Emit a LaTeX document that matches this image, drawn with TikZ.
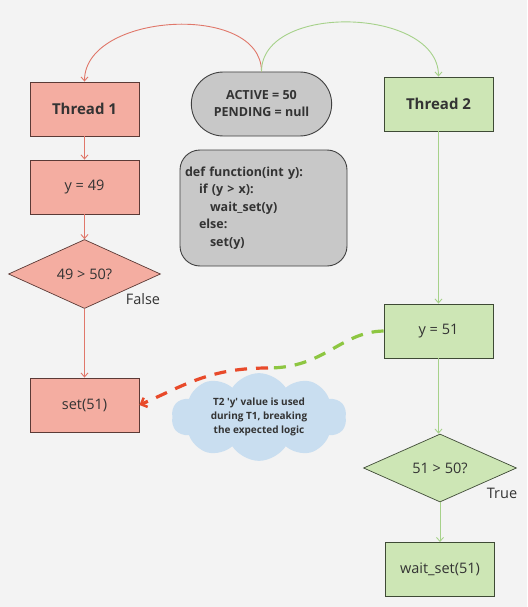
\documentclass[tikz,border=0pt]{standalone}
\usepackage{fontspec}
\setmainfont{Open Sans}
\usetikzlibrary{arrows.meta,shapes.geometric,shapes.misc,shapes.symbols}
\definecolor{bgc}{HTML}{F3F3F3}
\definecolor{redfill}{HTML}{F4ADA1}
\definecolor{redborder}{HTML}{5B3A36}
\definecolor{greenfill}{HTML}{CDE6B5}
\definecolor{greenborder}{HTML}{3E4A35}
\definecolor{redline}{HTML}{E0776A}
\definecolor{greenline}{HTML}{A6D18A}
\definecolor{grayfill}{HTML}{C8C8C8}
\definecolor{grayborder}{HTML}{404040}
\definecolor{cloudfill}{HTML}{C9DEF0}
\definecolor{dashred}{HTML}{E84A2A}
\definecolor{dashgreen}{HTML}{8DC641}
\definecolor{txt}{HTML}{333333}
\tikzset{
  redbox/.style={draw=redborder, fill=redfill, line width=0.9pt, minimum width=109pt, minimum height=54pt, text=txt, font=\fontsize{14.5}{16}\selectfont},
  greenbox/.style={draw=greenborder, fill=greenfill, line width=0.9pt, minimum width=109pt, minimum height=54pt, text=txt, font=\fontsize{14.5}{16}\selectfont},
  reddia/.style={diamond, draw=redborder, fill=redfill, line width=0.7pt, minimum width=152pt, minimum height=69pt, inner sep=0pt, aspect=2.2, text=txt, font=\fontsize{14.5}{16}\selectfont},
  greendia/.style={diamond, draw=greenborder, fill=greenfill, line width=0.7pt, minimum width=153pt, minimum height=68pt, inner sep=0pt, aspect=2.2, text=txt, font=\fontsize{14.5}{16}\selectfont},
  redarrow/.style={draw=redline, line width=0.9pt, -{Straight Barb[length=4pt,width=7pt]}},
  greenarrow/.style={draw=greenline, line width=0.9pt, -{Straight Barb[length=4pt,width=7pt]}},
  lbl/.style={text=txt, font=\fontsize{14.5}{16}\selectfont},
}
\begin{document}
\begin{tikzpicture}[x=1pt,y=-1pt]
\fill[bgc] (0,0) rectangle (527,607);
\useasboundingbox (0,0) rectangle (527,607);

% left column
\node[redbox, font=\fontsize{15}{16}\selectfont\bfseries] (t1) at (84.5,109) {Thread 1};
\node[redbox] (y49) at (84.5,187) {y = 49};
\node[reddia] (d1) at (84.5,274) {49 > 50?};
\node[lbl] (false) at (143,299) {False};
\node[redbox] (set51) at (84.5,405) {set(51)};

% center
\node[rounded rectangle, draw=grayborder, fill=grayfill, line width=0.9pt, minimum width=147pt, minimum height=64pt, align=center, text=txt, font=\fontsize{12.5}{17}\selectfont\bfseries] (state) at (261.5,104) {ACTIVE = 50\\PENDING = null};
\node[draw=grayborder, fill=grayfill, line width=0.9pt, rounded corners=20pt, minimum width=167pt, minimum height=116pt, text width=157pt, inner xsep=5pt, align=left, text=txt, font=\fontsize{12.5}{17.5}\selectfont\bfseries] (code) at (263.5,208)
  {def function(int y):\\\hspace*{14pt}if (y > x):\\\hspace*{25pt}wait\_set(y)\\\hspace*{14pt}else:\\\hspace*{25pt}set(y)};

% right column
\node[greenbox, font=\fontsize{15}{16}\selectfont\bfseries] (t2) at (438.5,104) {Thread 2};
\node[greenbox] (y51) at (438.5,331) {y = 51};
\node[greendia] (d2) at (440,468) {51 > 50?};
\node[lbl] (true) at (502,493) {True};
\node[greenbox] (wait) at (440,569.5) {wait\_set(51)};

% cloud
\node[cloud, cloud puffs=10, cloud puff arc=115, aspect=2.2, fill=cloudfill, draw=none, minimum width=175pt, minimum height=82pt, align=center, text=txt, font=\fontsize{10}{14}\selectfont\bfseries] (note) at (259,417) {T2 \textquotesingle y\textquotesingle{} value is used\\during T1, breaking\\the expected logic};

% top arcs
\draw[redarrow] (state.north) to[out=90,in=90] (t1.north);
\draw[greenarrow] (state.north) to[out=90,in=90] (t2.north);

% left flow
\draw[redarrow] (t1.south) -- (y49.north);
\draw[redarrow] (y49.south) -- (d1.north);
\draw[redarrow] (d1.south) -- (set51.north);

% right flow
\draw[greenarrow] (t2.south) -- (y51.north);
\draw[greenarrow] (y51.south) -- (y51.south |- d2.north);
\draw[greenarrow] (d2.south) -- (wait.north);

% dashed race connector
\coordinate (mid) at (268,368);
\draw[dashgreen, line width=3.2pt, dash pattern=on 12pt off 9pt] (y51.west) .. controls (340,332) and (325,368) .. (mid);
\draw[dashred, line width=3.2pt, dash pattern=on 12pt off 9pt, -{Straight Barb[length=5pt,width=10pt,line width=2.5pt]}] (mid) .. controls (210,368) and (185,385) .. (set51.east);
\end{tikzpicture}
\end{document}
